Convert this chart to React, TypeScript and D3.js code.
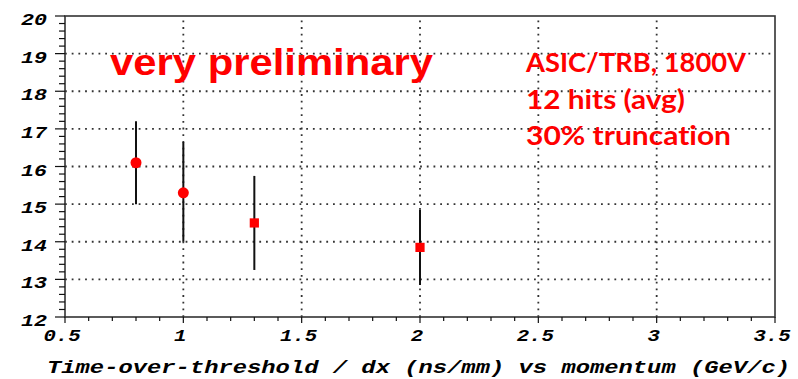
import React, {useEffect, useRef} from "react";
import * as d3 from "d3";

// momentum (GeV/c)
const momentum = [0.8, 1.0, 1.3, 2.0];
// ToT/dx resolution, central values and error bar ends
const totValue = [16.1, 15.3, 14.5, 13.85];
const totHigh = [17.2, 16.65, 15.75, 14.85];
const totLow = [15.0, 14.0, 13.25, 12.85];
const markerShape = ["circle", "circle", "square", "square"];

const xTicks = [0.5, 1, 1.5, 2, 2.5, 3, 3.5];
const yTicks = [12, 13, 14, 15, 16, 17, 18, 19, 20];
const xTitle = "Time-over-threshold / dx (ns/mm) vs momentum (GeV/c)";
const notes = ["ASIC/TRB, 1800V", "12 hits (avg)", "30% truncation"];
const stamp = "very preliminary";

export default function App() {
    const svgRef = useRef(null);
    const width = 798;
    const height = 379;
    const margin = {top: 16, right: 23, bottom: 62, left: 65};

    useEffect(() => {
        const svg = d3.select(svgRef.current);
        svg.selectAll("*").remove();

        const x = d3.scaleLinear().domain([0.5, 3.5]).range([margin.left, width - margin.right]);
        const y = d3.scaleLinear().domain([12, 20]).range([height - margin.bottom, margin.top]);
        const [x0, x1] = x.range();
        const [y0, y1] = y.range();

        const mono = "'Liberation Mono', 'DejaVu Sans Mono', monospace";

        // dotted grid
        const grid = svg.append("g")
            .attr("stroke", "#333")
            .attr("stroke-width", 1.8)
            .attr("stroke-dasharray", "1.8 4.9");
        grid.selectAll("line.gx")
            .data(xTicks.slice(1, -1))
            .enter().append("line")
            .attr("x1", d => x(d)).attr("x2", d => x(d))
            .attr("y1", y0).attr("y2", y1);
        grid.selectAll("line.gy")
            .data(yTicks.slice(1, -1))
            .enter().append("line")
            .attr("x1", x0).attr("x2", x1)
            .attr("y1", d => y(d)).attr("y2", d => y(d));

        // frame
        svg.append("rect")
            .attr("x", x0).attr("y", y1)
            .attr("width", x1 - x0).attr("height", y0 - y1)
            .attr("fill", "none")
            .attr("stroke", "#333")
            .attr("stroke-width", 1.6);

        // x ticks (minor every 0.1)
        const xMinor = d3.range(5, 36).map(v => v / 10);
        svg.append("g").selectAll("line")
            .data(xMinor)
            .enter().append("line")
            .attr("x1", d => x(d)).attr("x2", d => x(d))
            .attr("y1", y0)
            .attr("y2", d => y0 + (Math.abs(d * 2 - Math.round(d * 2)) < 1e-6 ? 6 : 4))
            .attr("stroke", "#111")
            .attr("stroke-width", 1.2);

        // y ticks (minor every 0.2)
        const yMinor = d3.range(60, 101).map(v => v / 5);
        svg.append("g").selectAll("line")
            .data(yMinor)
            .enter().append("line")
            .attr("y1", d => y(d)).attr("y2", d => y(d))
            .attr("x1", x0)
            .attr("x2", d => x0 - (Math.abs(d - Math.round(d)) < 1e-6 ? 10 : 6))
            .attr("stroke", "#111")
            .attr("stroke-width", 1.2);

        // tick labels
        svg.append("g").selectAll("text")
            .data(xTicks)
            .enter().append("text")
            .attr("x", d => x(d) - 3)
            .attr("y", y0 + 24)
            .attr("text-anchor", "middle")
            .attr("font-family", mono)
            .attr("font-weight", "bold")
            .attr("font-style", "italic")
            .attr("font-size", 17)
            .attr("textLength", d => String(d).length * 12.4)
            .attr("lengthAdjust", "spacingAndGlyphs")
            .attr("fill", "#000")
            .text(d => String(d));

        svg.append("g").selectAll("text")
            .data(yTicks)
            .enter().append("text")
            .attr("x", 47)
            .attr("y", d => y(d) + 9)
            .attr("text-anchor", "end")
            .attr("font-family", mono)
            .attr("font-weight", "bold")
            .attr("font-style", "italic")
            .attr("font-size", 17)
            .attr("textLength", d => String(d).length * 13)
            .attr("lengthAdjust", "spacingAndGlyphs")
            .attr("fill", "#000")
            .text(d => String(d));

        // axis title
        svg.append("text")
            .attr("x", 47)
            .attr("y", 373)
            .attr("font-family", mono)
            .attr("font-weight", "bold")
            .attr("font-style", "italic")
            .attr("font-size", 19)
            .attr("textLength", 743)
            .attr("lengthAdjust", "spacingAndGlyphs")
            .attr("fill", "#000")
            .text(xTitle);

        // error bars
        svg.append("g").selectAll("line")
            .data(momentum)
            .enter().append("line")
            .attr("x1", d => x(d)).attr("x2", d => x(d))
            .attr("y1", (d, i) => y(totLow[i]))
            .attr("y2", (d, i) => y(totHigh[i]))
            .attr("stroke", "#111")
            .attr("stroke-width", 2);

        // markers
        svg.append("g").selectAll("path")
            .data(momentum)
            .enter().append("path")
            .attr("transform", (d, i) => `translate(${x(d)},${y(totValue[i])})`)
            .attr("d", (d, i) => d3.symbol()
                .type(markerShape[i] === "square" ? d3.symbolSquare : d3.symbolCircle)
                .size(markerShape[i] === "square" ? 85 : 95)())
            .attr("fill", "#ff0000");

        // annotations
        svg.append("text")
            .attr("x", 110)
            .attr("y", 75)
            .attr("font-family", "'Liberation Sans', Arial, sans-serif")
            .attr("font-weight", "bold")
            .attr("font-size", 37)
            .attr("textLength", 323)
            .attr("lengthAdjust", "spacingAndGlyphs")
            .attr("fill", "#ff0000")
            .text(stamp);

        const noteWidth = [220, 159, 205];
        const noteBase = [72, 108.5, 145];
        svg.append("g").selectAll("text")
            .data(notes)
            .enter().append("text")
            .attr("x", 526)
            .attr("y", (d, i) => noteBase[i])
            .attr("font-family", "Lato, 'Open Sans', sans-serif")
            .attr("font-weight", "bold")
            .attr("font-size", 26)
            .attr("textLength", (d, i) => noteWidth[i])
            .attr("lengthAdjust", "spacingAndGlyphs")
            .style("font-variant-ligatures", "none")
            .attr("fill", "#ff0000")
            .text(d => d);
    }, []);

    return <svg
        ref={svgRef}
        width={width}
        height={height}
        style={{position: "absolute", left: 0, top: 0, background: "white"}}
    />;
}
